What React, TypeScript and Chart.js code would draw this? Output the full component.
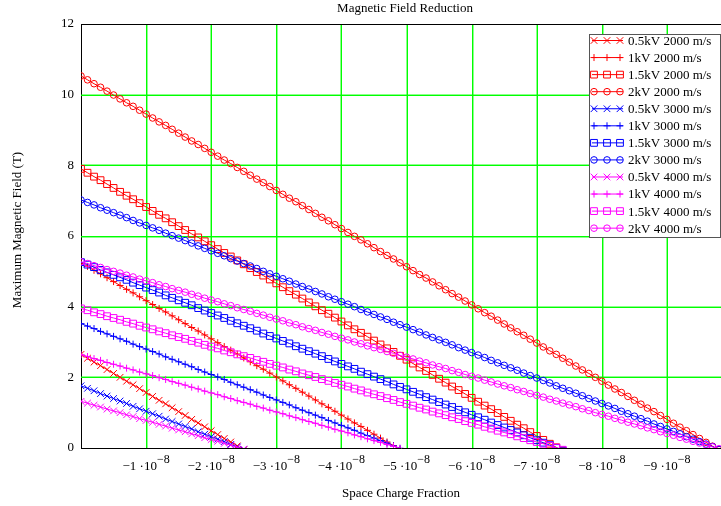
import React, { useEffect, useRef } from "react";
import { Chart, registerables } from "chart.js";

Chart.register(...registerables);

// Space charge fraction sample points, in units of 1e-9
const FRACTION_NANO = [
  0, -1, -2, -3, -4, -5, -6, -7, -8, -9, -10, -11, -12, -13, -14, -15, -16, -17, -18, -19,
  -20, -21, -22, -23, -24, -25, -26, -27, -28, -29, -30, -31, -32, -33, -34, -35, -36, -37, -38, -39,
  -40, -41, -42, -43, -44, -45, -46, -47, -48, -49, -50, -51, -52, -53, -54, -55, -56, -57, -58, -59,
  -60, -61, -62, -63, -64, -65, -66, -67, -68, -69, -70, -71, -72, -73, -74, -75, -76, -77, -78, -79,
  -80, -81, -82, -83, -84, -85, -86, -87, -88, -89, -90, -91, -92, -93, -94, -95, -96, -97, -98,
];

const X_TICK_COEFFS = [-1, -2, -3, -4, -5, -6, -7, -8, -9];
const Y_GRID_VALUES = [2, 4, 6, 8, 10];

const TITLE = "Magnetic Field Reduction";
const X_TITLE = "Space Charge Fraction";
const Y_TITLE = "Maximum Magnetic Field (T)";

// 2000 m/s
const B_05KV_2000 = [2.65, 2.54, 2.43, 2.33, 2.22, 2.11, 2.0, 1.89, 1.79, 1.68, 1.57, 1.46, 1.35, 1.25, 1.14, 1.03, 0.92, 0.81, 0.71, 0.6, 0.49, 0.38, 0.27, 0.17, 0.06, -0.05];
const B_1KV_2000 = [5.25, 5.14, 5.03, 4.93, 4.82, 4.71, 4.6, 4.49, 4.39, 4.28, 4.17, 4.06, 3.95, 3.85, 3.74, 3.63, 3.52, 3.41, 3.31, 3.2, 3.09, 2.98, 2.87, 2.77, 2.66, 2.55, 2.44, 2.33, 2.23, 2.12, 2.01, 1.9, 1.79, 1.69, 1.58, 1.47, 1.36, 1.25, 1.15, 1.04, 0.93, 0.82, 0.71, 0.61, 0.5, 0.39, 0.28, 0.17, 0.07, -0.04];
const B_15KV_2000 = [7.9, 7.79, 7.68, 7.58, 7.47, 7.36, 7.25, 7.14, 7.04, 6.93, 6.82, 6.71, 6.6, 6.5, 6.39, 6.28, 6.17, 6.06, 5.96, 5.85, 5.74, 5.63, 5.52, 5.42, 5.31, 5.2, 5.09, 4.98, 4.88, 4.77, 4.66, 4.55, 4.44, 4.34, 4.23, 4.12, 4.01, 3.9, 3.8, 3.69, 3.58, 3.47, 3.36, 3.26, 3.15, 3.04, 2.93, 2.82, 2.72, 2.61, 2.5, 2.39, 2.28, 2.18, 2.07, 1.96, 1.85, 1.74, 1.64, 1.53, 1.42, 1.31, 1.2, 1.1, 0.99, 0.88, 0.77, 0.66, 0.56, 0.45, 0.34, 0.23, 0.12, 0.02, -0.09];
const B_2KV_2000 = [10.53, 10.42, 10.31, 10.21, 10.1, 9.99, 9.88, 9.77, 9.67, 9.56, 9.45, 9.34, 9.23, 9.13, 9.02, 8.91, 8.8, 8.69, 8.59, 8.48, 8.37, 8.26, 8.15, 8.05, 7.94, 7.83, 7.72, 7.61, 7.51, 7.4, 7.29, 7.18, 7.07, 6.97, 6.86, 6.75, 6.64, 6.53, 6.43, 6.32, 6.21, 6.1, 5.99, 5.89, 5.78, 5.67, 5.56, 5.45, 5.35, 5.24, 5.13, 5.02, 4.91, 4.81, 4.7, 4.59, 4.48, 4.37, 4.27, 4.16, 4.05, 3.94, 3.83, 3.73, 3.62, 3.51, 3.4, 3.29, 3.19, 3.08, 2.97, 2.86, 2.75, 2.65, 2.54, 2.43, 2.32, 2.21, 2.11, 2.0, 1.89, 1.78, 1.67, 1.57, 1.46, 1.35, 1.24, 1.13, 1.03, 0.92, 0.81, 0.7, 0.59, 0.49, 0.38, 0.27, 0.16, 0.05, -0.05];

// 3000 m/s
const B_05KV_3000 = [1.76, 1.69, 1.62, 1.54, 1.47, 1.4, 1.33, 1.26, 1.18, 1.11, 1.04, 0.97, 0.9, 0.82, 0.75, 0.68, 0.61, 0.54, 0.46, 0.39, 0.32, 0.25, 0.18, 0.1, 0.03, -0.04];
const B_1KV_3000 = [3.52, 3.45, 3.38, 3.3, 3.23, 3.16, 3.09, 3.02, 2.94, 2.87, 2.8, 2.73, 2.66, 2.58, 2.51, 2.44, 2.37, 2.3, 2.22, 2.15, 2.08, 2.01, 1.94, 1.86, 1.79, 1.72, 1.65, 1.58, 1.5, 1.43, 1.36, 1.29, 1.22, 1.14, 1.07, 1.0, 0.93, 0.86, 0.78, 0.71, 0.64, 0.57, 0.5, 0.42, 0.35, 0.28, 0.21, 0.14, 0.06, -0.01];
const B_15KV_3000 = [5.26, 5.19, 5.12, 5.04, 4.97, 4.9, 4.83, 4.76, 4.68, 4.61, 4.54, 4.47, 4.4, 4.32, 4.25, 4.18, 4.11, 4.04, 3.96, 3.89, 3.82, 3.75, 3.68, 3.6, 3.53, 3.46, 3.39, 3.32, 3.24, 3.17, 3.1, 3.03, 2.96, 2.88, 2.81, 2.74, 2.67, 2.6, 2.52, 2.45, 2.38, 2.31, 2.24, 2.16, 2.09, 2.02, 1.95, 1.88, 1.8, 1.73, 1.66, 1.59, 1.52, 1.44, 1.37, 1.3, 1.23, 1.16, 1.08, 1.01, 0.94, 0.87, 0.8, 0.72, 0.65, 0.58, 0.51, 0.44, 0.36, 0.29, 0.22, 0.15, 0.08, 0.0, -0.07];
const B_2KV_3000 = [7.02, 6.95, 6.88, 6.8, 6.73, 6.66, 6.59, 6.52, 6.44, 6.37, 6.3, 6.23, 6.16, 6.08, 6.01, 5.94, 5.87, 5.8, 5.72, 5.65, 5.58, 5.51, 5.44, 5.36, 5.29, 5.22, 5.15, 5.08, 5.0, 4.93, 4.86, 4.79, 4.72, 4.64, 4.57, 4.5, 4.43, 4.36, 4.28, 4.21, 4.14, 4.07, 4.0, 3.92, 3.85, 3.78, 3.71, 3.64, 3.56, 3.49, 3.42, 3.35, 3.28, 3.2, 3.13, 3.06, 2.99, 2.92, 2.84, 2.77, 2.7, 2.63, 2.56, 2.48, 2.41, 2.34, 2.27, 2.2, 2.12, 2.05, 1.98, 1.91, 1.84, 1.76, 1.69, 1.62, 1.55, 1.48, 1.4, 1.33, 1.26, 1.19, 1.12, 1.04, 0.97, 0.9, 0.83, 0.76, 0.68, 0.61, 0.54, 0.47, 0.4, 0.32, 0.25, 0.18, 0.11, 0.04, -0.04];

// 4000 m/s
const B_05KV_4000 = [1.32, 1.27, 1.21, 1.16, 1.1, 1.05, 1.0, 0.94, 0.89, 0.83, 0.78, 0.73, 0.67, 0.62, 0.56, 0.51, 0.46, 0.4, 0.35, 0.29, 0.24, 0.19, 0.13, 0.08, 0.02, -0.03];
const B_1KV_4000 = [2.64, 2.59, 2.53, 2.48, 2.42, 2.37, 2.32, 2.26, 2.21, 2.15, 2.1, 2.05, 1.99, 1.94, 1.88, 1.83, 1.78, 1.72, 1.67, 1.61, 1.56, 1.51, 1.45, 1.4, 1.34, 1.29, 1.24, 1.18, 1.13, 1.07, 1.02, 0.97, 0.91, 0.86, 0.8, 0.75, 0.7, 0.64, 0.59, 0.53, 0.48, 0.43, 0.37, 0.32, 0.26, 0.21, 0.16, 0.1, 0.05, -0.01];
const B_15KV_4000 = [3.95, 3.9, 3.84, 3.79, 3.73, 3.68, 3.63, 3.57, 3.52, 3.46, 3.41, 3.36, 3.3, 3.25, 3.19, 3.14, 3.09, 3.03, 2.98, 2.92, 2.87, 2.82, 2.76, 2.71, 2.65, 2.6, 2.55, 2.49, 2.44, 2.38, 2.33, 2.28, 2.22, 2.17, 2.11, 2.06, 2.01, 1.95, 1.9, 1.84, 1.79, 1.74, 1.68, 1.63, 1.57, 1.52, 1.47, 1.41, 1.36, 1.3, 1.25, 1.2, 1.14, 1.09, 1.03, 0.98, 0.93, 0.87, 0.82, 0.76, 0.71, 0.66, 0.6, 0.55, 0.49, 0.44, 0.39, 0.33, 0.28, 0.22, 0.17, 0.12, 0.06, 0.01, -0.05];
const B_2KV_4000 = [5.27, 5.22, 5.16, 5.11, 5.05, 5.0, 4.95, 4.89, 4.84, 4.78, 4.73, 4.68, 4.62, 4.57, 4.51, 4.46, 4.41, 4.35, 4.3, 4.24, 4.19, 4.14, 4.08, 4.03, 3.97, 3.92, 3.87, 3.81, 3.76, 3.7, 3.65, 3.6, 3.54, 3.49, 3.43, 3.38, 3.33, 3.27, 3.22, 3.16, 3.11, 3.06, 3.0, 2.95, 2.89, 2.84, 2.79, 2.73, 2.68, 2.62, 2.57, 2.52, 2.46, 2.41, 2.35, 2.3, 2.25, 2.19, 2.14, 2.08, 2.03, 1.98, 1.92, 1.87, 1.81, 1.76, 1.71, 1.65, 1.6, 1.54, 1.49, 1.44, 1.38, 1.33, 1.27, 1.22, 1.17, 1.11, 1.06, 1.0, 0.95, 0.9, 0.84, 0.79, 0.73, 0.68, 0.63, 0.57, 0.52, 0.46, 0.41, 0.36, 0.3, 0.25, 0.19, 0.14, 0.09, 0.03, -0.02];

const SERIES_LABELS = [
  "0.5kV 2000 m/s", "1kV 2000 m/s", "1.5kV 2000 m/s", "2kV 2000 m/s",
  "0.5kV 3000 m/s", "1kV 3000 m/s", "1.5kV 3000 m/s", "2kV 3000 m/s",
  "0.5kV 4000 m/s", "1kV 4000 m/s", "1.5kV 4000 m/s", "2kV 4000 m/s",
];
const SERIES_VALUES = [
  B_05KV_2000, B_1KV_2000, B_15KV_2000, B_2KV_2000,
  B_05KV_3000, B_1KV_3000, B_15KV_3000, B_2KV_3000,
  B_05KV_4000, B_1KV_4000, B_15KV_4000, B_2KV_4000,
];
const COLORS = ["#ff0000", "#0000ff", "#ff00ff"];
const STYLES = ["crossRot", "cross", "rect", "circle"];
const RADII: Record<string, number> = { crossRot: 4.7, cross: 3.5, rect: 4.8, circle: 3.3 };
const GRID_GREEN = "#00ff00";

const SERIF = '"Liberation Serif", "Times New Roman", serif';

function drawMarker(ctx: CanvasRenderingContext2D, style: string, x: number, y: number, r: number) {
  ctx.beginPath();
  if (style === "circle") {
    ctx.arc(x, y, r, 0, Math.PI * 2);
  } else if (style === "rect") {
    const s = r * Math.SQRT1_2;
    ctx.rect(x - s, y - s, 2 * s, 2 * s);
  } else if (style === "cross") {
    ctx.moveTo(x, y - r);
    ctx.lineTo(x, y + r);
    ctx.moveTo(x - r, y);
    ctx.lineTo(x + r, y);
  } else {
    const o = r * Math.SQRT1_2;
    ctx.moveTo(x - o, y - o);
    ctx.lineTo(x + o, y + o);
    ctx.moveTo(x - o, y + o);
    ctx.lineTo(x + o, y - o);
  }
  ctx.stroke();
}

const gridPlugin = {
  id: "greengrid",
  beforeDatasetsDraw(chart: any) {
    const ctx: CanvasRenderingContext2D = chart.ctx;
    const { left, right, top, bottom } = chart.chartArea;
    const xs = chart.scales.x;
    const ys = chart.scales.y;
    ctx.save();
    ctx.fillStyle = GRID_GREEN;
    for (const k of X_TICK_COEFFS) {
      const px = Math.round(xs.getPixelForValue(k * 1e-8));
      const partner = px % 2 === 0 ? px + 1 : px - 1;
      ctx.globalAlpha = 1;
      ctx.fillRect(px, top, 1, bottom - top);
      ctx.globalAlpha = 0.45;
      ctx.fillRect(partner, top, 1, bottom - top);
    }
    for (const v of Y_GRID_VALUES) {
      const py = Math.round(ys.getPixelForValue(v));
      const partner = py % 2 === 0 ? py + 1 : py - 1;
      ctx.globalAlpha = 1;
      ctx.fillRect(left, py, right - left, 1);
      ctx.globalAlpha = 0.45;
      ctx.fillRect(left, partner, right - left, 1);
    }
    ctx.restore();
  },
};

const decorPlugin = {
  id: "decor",
  afterDraw(chart: any) {
    const ctx: CanvasRenderingContext2D = chart.ctx;
    const { left, right, top } = chart.chartArea;
    const xs = chart.scales.x;
    ctx.save();
    // top border
    ctx.strokeStyle = "#000";
    ctx.lineWidth = 1;
    ctx.beginPath();
    ctx.moveTo(left, Math.round(top) + 0.5);
    ctx.lineTo(right, Math.round(top) + 0.5);
    ctx.stroke();

    ctx.fillStyle = "#000";
    ctx.font = `13px ${SERIF}`;
    ctx.textAlign = "center";
    ctx.textBaseline = "alphabetic";
    ctx.fillText(TITLE, (left + right) / 2 + 4, 12);
    ctx.fillText(X_TITLE, (left + right) / 2, 497);

    // x tick labels with superscript exponent
    for (const k of X_TICK_COEFFS) {
      const px = xs.getPixelForValue(k * 1e-8);
      const main = `\u2212${Math.abs(k)} \u00b710`;
      const sup = "\u22128";
      ctx.font = `13px ${SERIF}`;
      const w1 = ctx.measureText(main).width;
      ctx.font = `12px ${SERIF}`;
      const w2 = ctx.measureText(sup).width;
      const x0 = px - (w1 + w2) / 2;
      ctx.textAlign = "left";
      ctx.font = `13px ${SERIF}`;
      ctx.fillText(main, x0, 470);
      ctx.font = `12px ${SERIF}`;
      ctx.fillText(sup, x0 + w1, 463);
    }

    // y title
    ctx.save();
    ctx.translate(18, 230);
    ctx.rotate(-Math.PI / 2);
    ctx.textAlign = "center";
    ctx.textBaseline = "middle";
    ctx.font = `13px ${SERIF}`;
    ctx.fillText(Y_TITLE, 0, 0);
    ctx.restore();

    // legend
    const bx = 589, by = 34, bw = 131, bh = 203;
    ctx.fillStyle = "#fff";
    ctx.fillRect(bx, by, bw, bh);
    ctx.strokeStyle = "#555";
    ctx.lineWidth = 1;
    ctx.strokeRect(bx + 0.5, by + 0.5, bw, bh);
    ctx.font = `13px ${SERIF}`;
    ctx.textAlign = "left";
    ctx.textBaseline = "middle";
    SERIES_LABELS.forEach((lab, i) => {
      const y = 40.5 + i * 17.06;
      const color = COLORS[Math.floor(i / 4)];
      const style = STYLES[i % 4];
      ctx.strokeStyle = color;
      ctx.lineWidth = 1;
      ctx.beginPath();
      ctx.moveTo(592, y);
      ctx.lineTo(623, y);
      ctx.stroke();
      for (const mx of [594, 607, 620]) drawMarker(ctx, style, mx, y, RADII[style]);
      ctx.fillStyle = "#000";
      ctx.fillText(lab, 628, y + 1);
    });
    ctx.restore();
  },
};

export default function App() {
  const ref = useRef<HTMLCanvasElement | null>(null);
  useEffect(() => {
    if (!ref.current) return;
    const datasets = SERIES_VALUES.map((vals, i) => {
      const color = COLORS[Math.floor(i / 4)];
      const style = STYLES[i % 4];
      return {
        label: SERIES_LABELS[i],
        data: vals.map((v, j) => ({ x: FRACTION_NANO[j] * 1e-9, y: v })),
        borderColor: color,
        borderWidth: 1,
        pointStyle: style,
        pointRadius: RADII[style],
        pointBorderColor: color,
        pointBorderWidth: 1,
        pointBackgroundColor: "rgba(0,0,0,0)",
        fill: false,
        tension: 0,
        clip: 0,
        order: SERIES_VALUES.length - 1 - i,
      };
    });
    const chart = new Chart(ref.current, {
      type: "line",
      data: { datasets },
      options: {
        animation: false,
        responsive: false,
        devicePixelRatio: 1,
        events: [],
        layout: { autoPadding: false, padding: { top: 24, left: 0, right: 0, bottom: 0 } },
        plugins: { legend: { display: false }, tooltip: { enabled: false }, title: { display: false } },
        scales: {
          x: {
            type: "linear",
            min: -9.83e-8,
            max: 0,
            reverse: true,
            afterBuildTicks: (scale: any) => {
              scale.ticks = X_TICK_COEFFS.map((k) => ({ value: k * 1e-8 }));
            },
            afterFit: (scale: any) => {
              scale.height = 58;
            },
            ticks: { display: false },
            grid: { display: false, drawTicks: false },
            border: { display: true, color: "#000", width: 1 },
          },
          y: {
            min: 0,
            max: 12,
            ticks: { stepSize: 2, color: "#000", font: { family: SERIF, size: 13 }, padding: 7 },
            afterFit: (scale: any) => {
              scale.width = 81;
            },
            grid: { display: false, drawTicks: false },
            border: { display: true, color: "#000", width: 1 },
          },
        },
      } as any,
      plugins: [gridPlugin, decorPlugin],
    });
    return () => chart.destroy();
  }, []);
  return (
    <div style={{ position: "fixed", left: 0, top: 0, width: 721, height: 506, background: "#fff" }}>
      <canvas ref={ref} width={721} height={506} style={{ display: "block" }} />
    </div>
  );
}
